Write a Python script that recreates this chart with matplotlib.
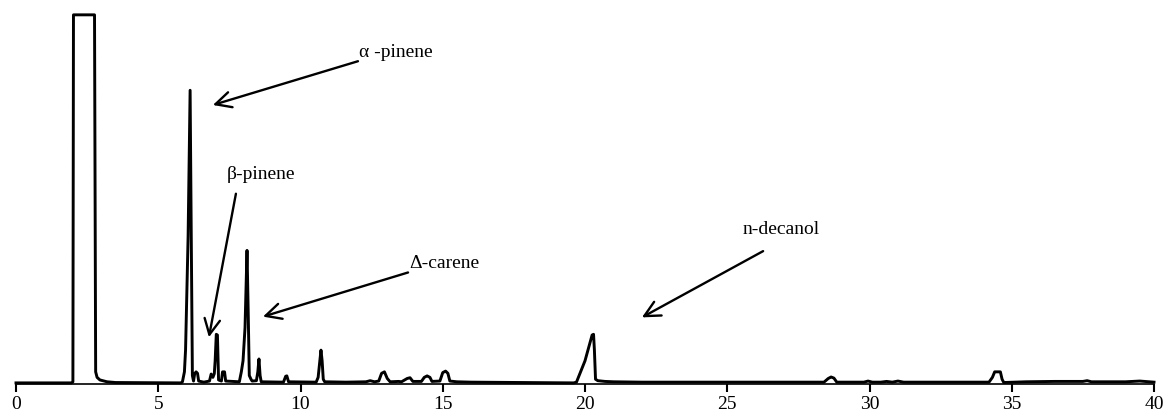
import matplotlib
matplotlib.use("Agg")
import matplotlib.pyplot as plt

# Chromatogram trace (retention time in min, signal in % of full scale)
trace_time = [0.0, 1.95, 2.0, 2.02, 2.76, 2.80, 2.85, 2.95, 3.2, 3.5, 5.8,
              5.85, 5.92, 5.96, 6.05, 6.12, 6.16, 6.2, 6.24, 6.28, 6.33, 6.38, 6.42,
              6.6, 6.8, 6.86, 6.92, 6.97, 7.0, 7.04, 7.08, 7.12, 7.22, 7.26, 7.33, 7.37,
              7.85, 7.92, 7.98, 8.05, 8.12, 8.16, 8.2, 8.26, 8.3, 8.45, 8.5, 8.54, 8.58, 8.62,
              9.4, 9.48, 9.52, 9.58, 10.55, 10.62, 10.68, 10.72, 10.76, 10.8, 10.85,
              11.6, 12.3, 12.45, 12.6, 12.75, 12.85, 12.95, 13.05, 13.15,
              13.45, 13.55, 13.75, 13.85, 13.95, 14.25, 14.35, 14.45, 14.55, 14.62,
              14.9, 15.0, 15.1, 15.18, 15.25, 15.5, 16.0,
              19.6, 19.7, 20.0, 20.25, 20.3, 20.33, 20.37, 20.45, 20.7, 21.0, 22.0,
              28.4, 28.55, 28.65, 28.75, 28.85, 29.8, 29.95, 30.1, 30.4, 30.6, 30.8,
              31.0, 31.2, 34.2, 34.32, 34.4, 34.6, 34.66, 34.72, 35.5, 36.5, 37.5,
              37.65, 37.8, 39.0, 39.5, 40.0]
trace_signal = [0.0, 0.0, 0.3, 100.0, 100.0, 3.0, 1.5, 0.8, 0.3, 0.1, 0.0,
                0.3, 3.0, 9.0, 40.0, 79.5, 40.0, 2.0, 0.5, 2.5, 3.0, 2.6, 0.5,
                0.2, 0.5, 2.4, 1.5, 2.5, 6.0, 13.2, 13.0, 0.8, 0.5, 3.0, 3.0, 0.5,
                0.3, 3.0, 6.0, 15.0, 36.0, 20.0, 2.0, 1.0, 0.5, 0.6, 3.0, 6.5, 2.0, 0.3,
                0.2, 1.8, 1.9, 0.3, 0.2, 1.5, 6.0, 8.9, 6.0, 1.0, 0.3,
                0.2, 0.3, 0.6, 0.3, 0.5, 2.6, 3.0, 1.2, 0.3,
                0.4, 0.3, 1.2, 1.4, 0.4, 0.4, 1.5, 1.9, 1.5, 0.4,
                0.5, 2.8, 3.2, 2.6, 0.5, 0.3, 0.2,
                0.0, 0.2, 6.0, 13.0, 13.2, 9.0, 1.0, 0.6, 0.4, 0.3, 0.2,
                0.2, 1.2, 1.6, 1.3, 0.2, 0.2, 0.5, 0.2, 0.2, 0.4, 0.2,
                0.5, 0.2, 0.2, 1.5, 3.0, 3.0, 1.0, 0.1, 0.3, 0.4, 0.4,
                0.6, 0.3, 0.3, 0.5, 0.2]

x_ticks = [0, 5, 10, 15, 20, 25, 30, 35, 40]
peak_labels = ["\u03b1 -pinene", "\u03b2-pinene", "\u0394-carene", "n-decanol"]

plt.rcParams['font.family'] = ['Liberation Serif', 'DejaVu Serif']

fig = plt.figure(figsize=(11.63, 4.14), dpi=100)
ax = fig.add_axes([16 / 1163, (414 - 385) / 414, (1154 - 16) / 1163, (385 - 14) / 414])
ax.plot(trace_time, trace_signal, color='black', lw=2.1, solid_joinstyle='round',
        clip_on=False)
ax.set_xlim(0, 40)
ax.set_ylim(-0.3, 100.5)

for s in ['left', 'right', 'top']:
    ax.spines[s].set_visible(False)
ax.spines['bottom'].set_linewidth(1.2)
ax.set_yticks([])
ax.set_xticks(x_ticks)
ax.set_xticklabels([str(v) for v in x_ticks], fontsize=14)
ax.tick_params(axis='x', direction='out', length=6, width=1.5, pad=2)

arrow_kw = dict(arrowstyle='->', lw=1.7, mutation_scale=28, color='black',
                shrinkA=0, shrinkB=0)
# (text position, arrow tail, arrow head) for each label
placements = [
    ((12.05, 90.0), (12.02, 87.4), (6.92, 75.5)),
    ((7.42, 57.0), (7.73, 51.4), (6.78, 12.4)),
    ((13.82, 32.8), (13.78, 30.0), (8.68, 18.0)),
    ((25.55, 42.0), (26.26, 35.8), (22.0, 17.8)),
]
for label, (txt, tail, head) in zip(peak_labels, placements):
    ax.text(txt[0], txt[1], label, fontsize=14, ha='left', va='center')
    ax.annotate('', xy=head, xytext=tail, arrowprops=arrow_kw)

fig.savefig('out.png', dpi=100)
